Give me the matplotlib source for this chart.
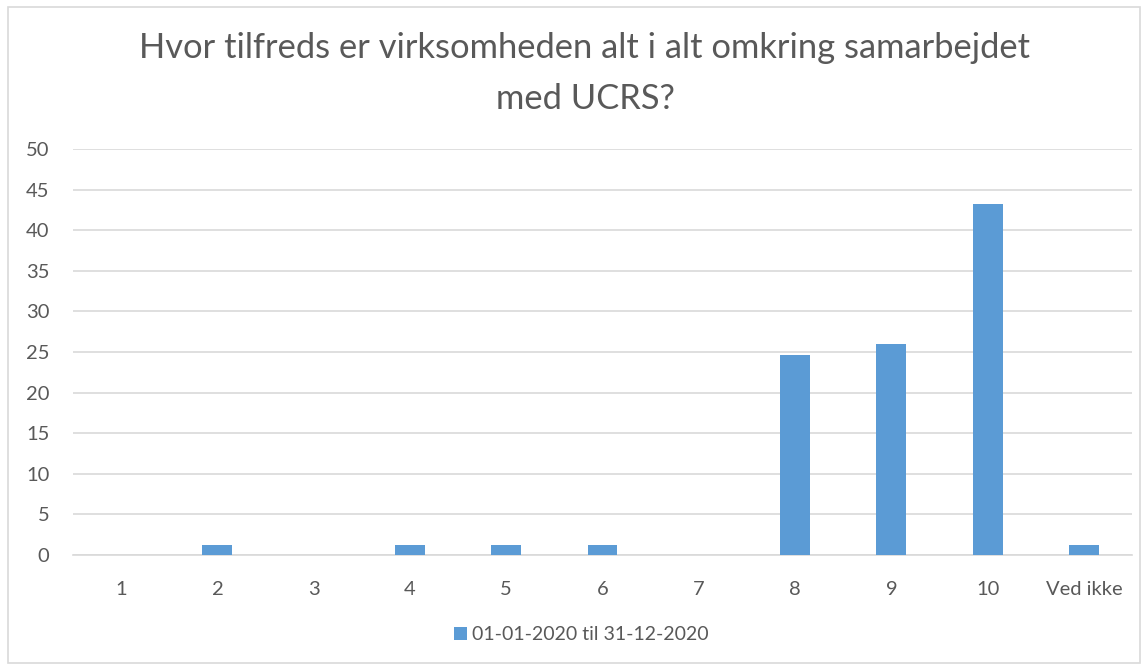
import matplotlib.pyplot as plt
from matplotlib.patches import Rectangle

# ------------ data -----------------
categories = ["1", "2", "3", "4", "5", "6", "7", "8", "9", "10", "Ved ikke"]
values = [0, 1.23, 0, 1.23, 1.23, 1.23, 0, 24.69, 25.93, 43.21, 1.23]
series_label = "01-01-2020 til 31-12-2020"
title = "Hvor tilfreds er virksomheden alt i alt omkring samarbejdet\nmed UCRS?"
yticks = list(range(0, 55, 5))

# ------------ style -----------------
plt.rcParams["font.family"] = ["Lato", "DejaVu Sans"]
bar_color = "#5b9bd5"
text_color = "#595959"
grid_color = "#d9d9d9"

fig = plt.figure(figsize=(11.47, 6.69), dpi=100)
ax = fig.add_axes([0.0636, 0.1704, 0.9234, 0.6069])

x = range(len(categories))
ax.bar(x, values, width=0.31, color=bar_color, label=series_label, zorder=3)

ax.set_xlim(-0.5, len(categories) - 0.5)
ax.set_ylim(0, 50)
ax.set_yticks(yticks)
ax.set_xticks(list(x))
ax.set_xticklabels(categories)
ax.tick_params(axis="both", length=0, labelsize=14.5, colors=text_color)
ax.tick_params(axis="x", pad=19)
ax.tick_params(axis="y", pad=17)

ax.grid(axis="y", color=grid_color, linewidth=1.2, zorder=0)
for s in ("top", "right", "left"):
    ax.spines[s].set_visible(False)
ax.spines["bottom"].set_color(grid_color)
ax.spines["bottom"].set_linewidth(1.2)

fig.text(0.51, 0.89, title, ha="center", va="center", fontsize=24.8,
         color=text_color, linespacing=1.7)

fig.legend(loc="center", bbox_to_anchor=(0.507, 0.051), frameon=False,
           fontsize=14, labelcolor=text_color, handlelength=0.65,
           handleheight=0.65, handletextpad=0.25)

# kantlinje rundt om diagrammet
fig.patches.append(Rectangle((0.007, 0.009), 0.987, 0.98, transform=fig.transFigure,
                             fill=False, edgecolor=grid_color, linewidth=1.2))

fig.savefig("out.png", dpi=100)
